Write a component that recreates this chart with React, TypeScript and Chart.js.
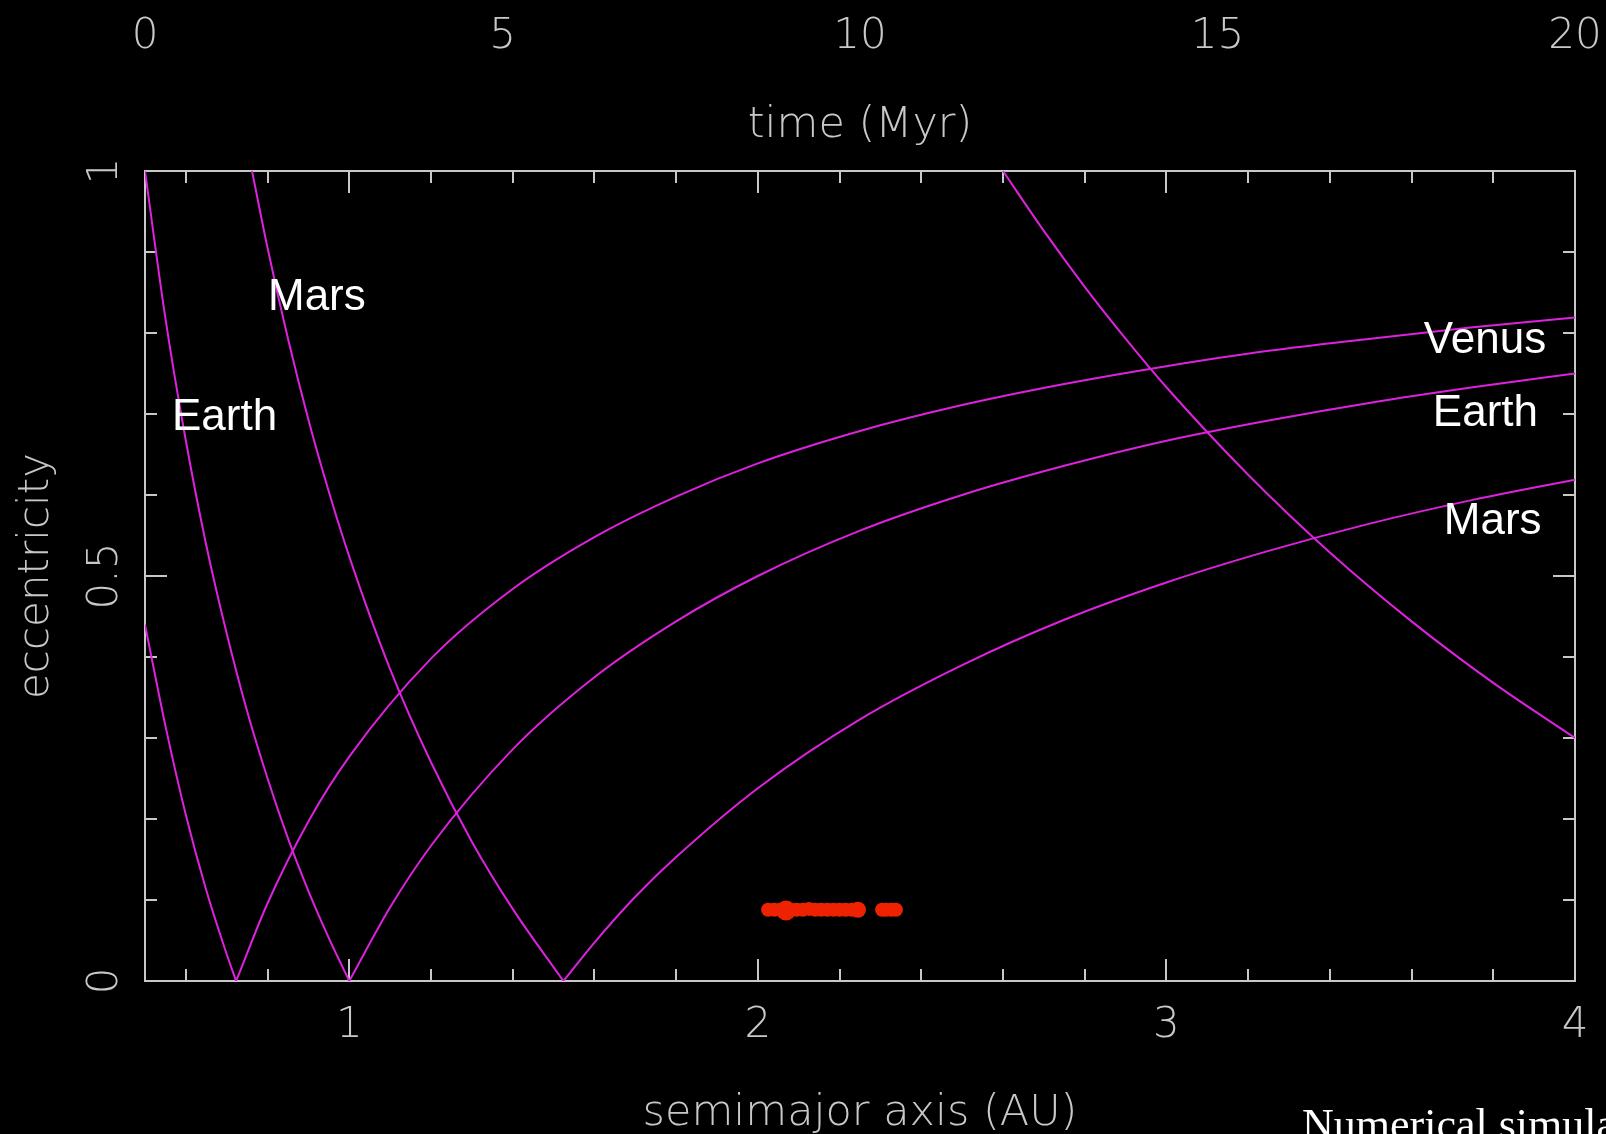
import React, { useEffect, useRef } from 'react';
import { Chart, registerables } from 'chart.js';

Chart.register(...registerables);

// ---- data ----
// curves where the aphelion meets a planet orbit (descending on the left)
const venusApA = [0.5, 0.55, 0.6, 0.65, 0.7, 0.723];
const venusApE = [0.44, 0.315, 0.205, 0.112, 0.033, 0];
const earthApA = [0.5, 0.55, 0.6, 0.65, 0.7, 0.75, 0.8, 0.85, 0.9, 0.95, 1.0];
const earthApE = [1.0, 0.818, 0.667, 0.538, 0.429, 0.333, 0.25, 0.176, 0.111, 0.053, 0];
const marsApA = [0.762, 0.8, 0.85, 0.9, 0.95, 1.0, 1.1, 1.2, 1.3, 1.4, 1.524];
const marsApE = [1.0, 0.905, 0.793, 0.693, 0.604, 0.524, 0.385, 0.27, 0.172, 0.089, 0];
const jupiterApA = [2.6, 2.7, 2.8, 2.9, 3.0, 3.2, 3.4, 3.6, 3.8, 4.0];
const jupiterApE = [1.0, 0.926, 0.857, 0.793, 0.733, 0.625, 0.529, 0.444, 0.368, 0.3];
// curves where the perihelion meets a planet orbit (rising to the right)
const venusPeA = [0.723, 0.8, 0.9, 1.0, 1.2, 1.4, 1.6, 1.8, 2.0, 2.25, 2.5, 2.75, 3.0, 3.25, 3.5, 3.75, 4.0];
const venusPeE = [0, 0.096, 0.197, 0.277, 0.398, 0.484, 0.548, 0.598, 0.639, 0.679, 0.711, 0.737, 0.759, 0.778, 0.793, 0.807, 0.819];
const earthPeA = [1.0, 1.1, 1.2, 1.4, 1.6, 1.8, 2.0, 2.25, 2.5, 2.75, 3.0, 3.25, 3.5, 3.75, 4.0];
const earthPeE = [0, 0.091, 0.167, 0.286, 0.375, 0.444, 0.5, 0.556, 0.6, 0.636, 0.667, 0.692, 0.714, 0.733, 0.75];
const marsPeA = [1.524, 1.6, 1.7, 1.8, 2.0, 2.25, 2.5, 2.75, 3.0, 3.25, 3.5, 3.75, 4.0];
const marsPeE = [0, 0.0475, 0.104, 0.153, 0.238, 0.323, 0.39, 0.446, 0.492, 0.531, 0.565, 0.594, 0.619];
// simulated bodies (red)
const bodyA = [2.025, 2.04, 2.055, 2.069, 2.08, 2.095, 2.11, 2.125, 2.14, 2.155, 2.17, 2.185, 2.2, 2.215, 2.23, 2.245, 2.304, 2.314, 2.327, 2.338];
const bodyE = [0.088, 0.088, 0.088, 0.087, 0.088, 0.088, 0.088, 0.089, 0.088, 0.088, 0.088, 0.088, 0.088, 0.088, 0.088, 0.088, 0.088, 0.088, 0.088, 0.088];
const bodySize = [7, 7, 7, 10, 7, 7, 7, 7, 7, 7, 7, 7, 7, 7, 7, 8, 7, 7, 7, 7];

// ---- axes ----
const aMin = 0.5;
const aMax = 4;
const tMin = 0;
const tMax = 20;
const aTickLabels = [1, 2, 3, 4];
const aMajorTicks = [1, 2, 3];
const aMinorTicks = [0.6, 0.8, 1.2, 1.4, 1.6, 1.8, 2.2, 2.4, 2.6, 2.8, 3.2, 3.4, 3.6, 3.8];
const tTickLabels = [0, 5, 10, 15, 20];
const eTickLabels = [0, 0.5, 1];
const eMajorTicks = [0.5];
const eMinorTicks = [0.1, 0.2, 0.3, 0.4, 0.6, 0.7, 0.8, 0.9];

// labels on the curves: [a, e, text]
const curveLabels: [number, number, string][] = [
  [0.801, 0.828, 'Mars'],
  [0.566, 0.68, 'Earth'],
  [3.63, 0.775, 'Venus'],
  [3.652, 0.685, 'Earth'],
  [3.679, 0.552, 'Mars'],
];

const MAGENTA = '#dd22dd';
const RED = '#ee2200';
const AXIS = '#c8c8c8';
const AXIS_FONT = '200 42px "DejaVu Sans ExtraLight", "DejaVu Sans", sans-serif';
const TITLE_FONT = '200 43px "DejaVu Sans ExtraLight", "DejaVu Sans", sans-serif';

const W = 1606;
const H = 1134;

function pairs(xs: number[], ys: number[]) {
  return xs.map((x, i) => ({ x, y: ys[i] }));
}

function curve(xs: number[], ys: number[]) {
  return {
    data: pairs(xs, ys),
    showLine: true,
    borderColor: MAGENTA,
    borderWidth: 2,
    pointRadius: 0,
    pointHoverRadius: 0,
    cubicInterpolationMode: 'monotone' as const,
    fill: false,
  };
}

const decorPlugin = {
  id: 'decor',
  beforeDatasetsDraw(chart: any) {
    const { ctx, chartArea: ca, scales } = chart;
    const xs = scales.x;
    const ys = scales.y;
    ctx.save();
    ctx.strokeStyle = AXIS;
    ctx.lineWidth = 2;
    ctx.strokeRect(ca.left, ca.top, ca.right - ca.left, ca.bottom - ca.top);
    ctx.beginPath();
    const minorLen = 12;
    const majorLen = 22;
    const xTick = (v: number, len: number) => {
      const px = Math.round(xs.getPixelForValue(v));
      ctx.moveTo(px, ca.bottom);
      ctx.lineTo(px, ca.bottom - len);
      ctx.moveTo(px, ca.top);
      ctx.lineTo(px, ca.top + len);
    };
    const yTick = (v: number, len: number) => {
      const py = Math.round(ys.getPixelForValue(v));
      ctx.moveTo(ca.left, py);
      ctx.lineTo(ca.left + len, py);
      ctx.moveTo(ca.right, py);
      ctx.lineTo(ca.right - len, py);
    };
    aMinorTicks.forEach((v) => xTick(v, minorLen));
    aMajorTicks.forEach((v) => xTick(v, majorLen));
    eMinorTicks.forEach((v) => yTick(v, minorLen));
    eMajorTicks.forEach((v) => yTick(v, majorLen));
    ctx.stroke();
    ctx.restore();
  },
  afterDatasetsDraw(chart: any) {
    const { ctx, chartArea: ca, scales } = chart;
    const xs = scales.x;
    const xt = scales.xTime;
    const ys = scales.y;
    ctx.save();
    ctx.fillStyle = AXIS;
    ctx.font = AXIS_FONT;
    ctx.textAlign = 'center';
    ctx.textBaseline = 'alphabetic';
    tTickLabels.forEach((t) => ctx.fillText(String(t), xt.getPixelForValue(t), 48));
    aTickLabels.forEach((a) => ctx.fillText(String(a), xs.getPixelForValue(a), 1037));
    const midX = (ca.left + ca.right) / 2;
    ctx.font = TITLE_FONT;
    ctx.fillText('time (Myr)', midX, 137);
    ctx.fillText('semimajor axis (AU)', midX, 1125);
    ctx.font = AXIS_FONT;
    eTickLabels.forEach((e) => {
      ctx.save();
      ctx.translate(117, ys.getPixelForValue(e));
      ctx.rotate(-Math.PI / 2);
      ctx.fillText(String(e), 0, 0);
      ctx.restore();
    });
    ctx.save();
    ctx.translate(48, (ca.top + ca.bottom) / 2);
    ctx.rotate(-Math.PI / 2);
    ctx.fillText('eccentricity', 0, 0);
    ctx.restore();

    ctx.fillStyle = '#ffffff';
    ctx.font = '44px "Liberation Sans", Arial, sans-serif';
    ctx.textAlign = 'left';
    curveLabels.forEach(([a, e, txt]) => {
      ctx.fillText(txt, xs.getPixelForValue(a), ys.getPixelForValue(e));
    });

    ctx.font = '44px "Liberation Serif", "Times New Roman", serif';
    ctx.fillText('Numerical simulations', 1302, 1139);
    ctx.restore();
  },
};

export default function App() {
  const ref = useRef<HTMLCanvasElement | null>(null);
  useEffect(() => {
    if (!ref.current) return;
    const chart = new Chart(ref.current, {
      type: 'scatter',
      data: {
        datasets: [
          curve(venusApA, venusApE),
          curve(earthApA, earthApE),
          curve(marsApA, marsApE),
          curve(venusPeA, venusPeE),
          curve(earthPeA, earthPeE),
          curve(marsPeA, marsPeE),
          curve(jupiterApA, jupiterApE),
          {
            data: pairs(bodyA, bodyE),
            showLine: false,
            pointRadius: bodySize,
            pointHoverRadius: bodySize,
            pointBackgroundColor: RED,
            pointBorderColor: RED,
            pointBorderWidth: 0,
          } as any,
        ],
      },
      options: {
        animation: false,
        responsive: false,
        devicePixelRatio: 1,
        events: [],
        layout: { padding: { left: 0, top: 0, bottom: 0, right: 31 } },
        plugins: {
          legend: { display: false },
          tooltip: { enabled: false },
        },
        scales: {
          x: {
            type: 'linear',
            position: 'bottom',
            min: aMin,
            max: aMax,
            ticks: { display: false },
            grid: { display: false },
            border: { display: false },
            afterFit: (s: any) => {
              s.height = H - 981;
            },
          },
          xTime: {
            type: 'linear',
            position: 'top',
            min: tMin,
            max: tMax,
            ticks: { display: false },
            grid: { display: false },
            border: { display: false },
            afterFit: (s: any) => {
              s.height = 171;
            },
          },
          y: {
            type: 'linear',
            position: 'left',
            min: 0,
            max: 1,
            ticks: { display: false },
            grid: { display: false },
            border: { display: false },
            afterFit: (s: any) => {
              s.width = 145;
            },
          },
        },
      } as any,
      plugins: [decorPlugin],
    });
    return () => chart.destroy();
  }, []);
  return (
    <div style={{ position: 'fixed', left: 0, top: 0, width: W, height: H, background: '#000', overflow: 'hidden' }}>
      <canvas ref={ref} width={W} height={H} style={{ display: 'block', width: W, height: H }} />
    </div>
  );
}
